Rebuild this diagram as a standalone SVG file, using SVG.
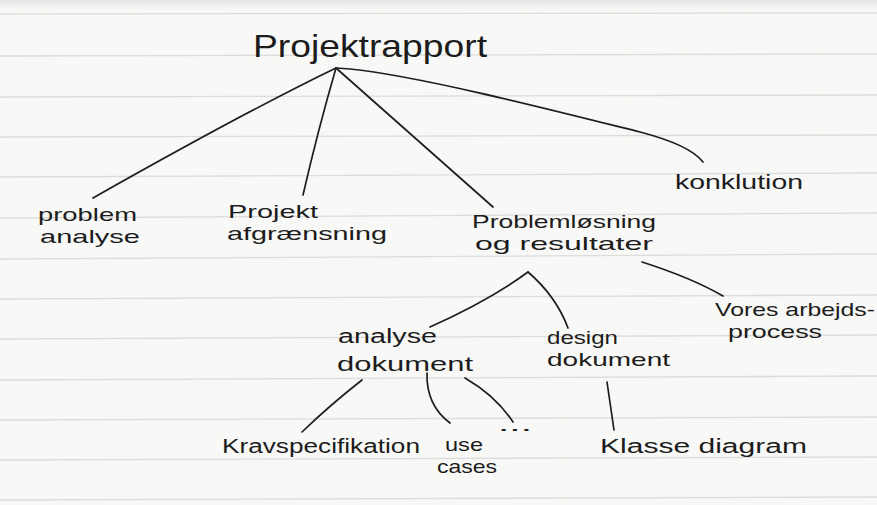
<svg xmlns="http://www.w3.org/2000/svg" width="877" height="505" viewBox="0 0 877 505">
  <style>
    .paper { fill: #f8f8f6; }
    .rule { stroke: #dcdcda; stroke-width: 1.3; fill: none; }
    .lbl { font-family: "Liberation Sans", "DejaVu Sans", sans-serif; font-size: 19px; fill: #1c1c1c; }
    .big { font-size: 20px; }
    .title { font-size: 32px; }
    .link { stroke: #1e1e1e; stroke-width: 1.7; fill: none; stroke-linecap: round; stroke-linejoin: round; }
  </style>
  <defs>
    <linearGradient id="topShade" x1="0" y1="0" x2="0" y2="1">
      <stop offset="0" stop-color="#e2e2e0"/>
      <stop offset="1" stop-color="#f8f8f6" stop-opacity="0"/>
    </linearGradient>
  </defs>

  <!-- lined paper -->
  <rect class="paper" x="0" y="0" width="877" height="505"/>
  <rect x="0" y="0" width="877" height="14" fill="url(#topShade)"/>
  <g id="ruling">
    <line class="rule" x1="0" y1="14" x2="877" y2="13"/>
    <line class="rule" x1="0" y1="56" x2="877" y2="54"/>
    <line class="rule" x1="0" y1="97" x2="877" y2="95"/>
    <line class="rule" x1="0" y1="137" x2="877" y2="135"/>
    <line class="rule" x1="0" y1="177" x2="877" y2="173"/>
    <line class="rule" x1="0" y1="218" x2="877" y2="213"/>
    <line class="rule" x1="0" y1="259" x2="877" y2="254"/>
    <line class="rule" x1="0" y1="299" x2="877" y2="295"/>
    <line class="rule" x1="0" y1="339" x2="877" y2="335"/>
    <line class="rule" x1="0" y1="380" x2="877" y2="376"/>
    <line class="rule" x1="0" y1="420" x2="877" y2="417"/>
    <line class="rule" x1="0" y1="460" x2="877" y2="457"/>
    <line class="rule" x1="0" y1="500" x2="877" y2="497"/>
  </g>

  <!-- connectors -->
  <g id="connectors">
    <path class="link" d="M336,68 Q245,112 93,198"/>
    <path class="link" d="M336,68 Q318,130 303,195"/>
    <path class="link" d="M336,68 Q440,160 493,207"/>
    <path class="link" d="M336,68 L350,69 C420,76 560,112 640,132 Q690,145 703,162"/>
    <path class="link" d="M528,272 Q490,300 430,327"/>
    <path class="link" d="M528,272 Q556,296 568,328"/>
    <path class="link" d="M642,262 Q692,278 723,296"/>
    <path class="link" d="M362,380 Q330,405 302,432"/>
    <path class="link" d="M427,373 Q426,405 450,423"/>
    <path class="link" d="M465,378 Q496,396 513,422"/>
    <path class="link" d="M607,382 L614,430"/>
  </g>

  <g id="projektrapport">
    <text class="lbl title" x="253" y="57" textLength="234" lengthAdjust="spacingAndGlyphs">Projektrapport</text>
  </g>
  <g id="problemanalyse">
    <text class="lbl" x="38" y="221" textLength="99" lengthAdjust="spacingAndGlyphs">problem</text>
    <text class="lbl" x="40" y="243" textLength="100" lengthAdjust="spacingAndGlyphs">analyse</text>
  </g>
  <g id="projektafgraensning">
    <text class="lbl" x="228" y="218" textLength="90" lengthAdjust="spacingAndGlyphs">Projekt</text>
    <text class="lbl" x="227" y="240" textLength="160" lengthAdjust="spacingAndGlyphs">afgrænsning</text>
  </g>
  <g id="problemloesning">
    <text class="lbl" x="472" y="228" textLength="184" lengthAdjust="spacingAndGlyphs">Problemløsning</text>
    <text class="lbl" x="475" y="250" textLength="178" lengthAdjust="spacingAndGlyphs">og resultater</text>
  </g>
  <g id="konklution">
    <text class="lbl big" x="675" y="189" textLength="128" lengthAdjust="spacingAndGlyphs">konklution</text>
  </g>
  <g id="arbejdsprocess">
    <text class="lbl" x="715" y="316" textLength="160" lengthAdjust="spacingAndGlyphs">Vores arbejds-</text>
    <text class="lbl" x="728" y="338" textLength="94" lengthAdjust="spacingAndGlyphs">process</text>
  </g>
  <g id="analysedokument">
    <text class="lbl big" x="338" y="343" textLength="99" lengthAdjust="spacingAndGlyphs">analyse</text>
    <text class="lbl big" x="337" y="371" textLength="136" lengthAdjust="spacingAndGlyphs">dokument</text>
  </g>
  <g id="designdokument">
    <text class="lbl" x="547" y="344" textLength="71" lengthAdjust="spacingAndGlyphs">design</text>
    <text class="lbl" x="547" y="366" textLength="123" lengthAdjust="spacingAndGlyphs">dokument</text>
  </g>
  <g id="kravspecifikation">
    <text class="lbl big" x="222" y="453" textLength="198" lengthAdjust="spacingAndGlyphs">Kravspecifikation</text>
  </g>
  <g id="usecases">
    <text class="lbl" x="445" y="451" textLength="38" lengthAdjust="spacingAndGlyphs">use</text>
    <text class="lbl" x="437" y="473" textLength="60" lengthAdjust="spacingAndGlyphs">cases</text>
  </g>
  <g id="more">
    <text class="lbl" x="498" y="431" textLength="34" lengthAdjust="spacingAndGlyphs">...</text>
  </g>
  <g id="klassediagram">
    <text class="lbl big" x="600" y="453" textLength="207" lengthAdjust="spacingAndGlyphs">Klasse diagram</text>
  </g>
</svg>
